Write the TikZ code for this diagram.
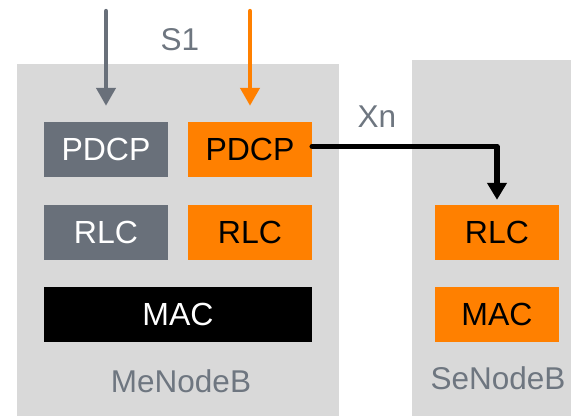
\documentclass[tikz,border=0pt]{standalone}
\usepackage{fontspec}
\setmainfont{Liberation Sans}
\usetikzlibrary{arrows.meta}
\definecolor{bggrey}{HTML}{D9D9D9}
\definecolor{dkgrey}{HTML}{69707A}
\definecolor{txgrey}{HTML}{6E7680}
\definecolor{orng}{HTML}{FF8000}
\begin{document}
\begin{tikzpicture}[x=1pt,y=-1pt,
  layer/.style={minimum width=124pt,minimum height=55pt,inner sep=0pt,font=\fontsize{32}{32}\selectfont},
  greylayer/.style={layer,fill=dkgrey,text=white},
  orangelayer/.style={layer,fill=orng,text=black},
  lbl/.style={text=txgrey,font=\fontsize{31.5}{31.5}\selectfont,inner sep=0pt},
  feed/.style={line width=4.3pt,line cap=round,-{Triangle[width=19pt,length=18pt]}}]
\useasboundingbox (0,0) rectangle (571,416);
\fill[bggrey] (17,64) rectangle (339,416);
\fill[bggrey] (412,60) rectangle (571,416);
\node[greylayer] (gpdcp) at (106,149.5) {PDCP};
\node[orangelayer] (opdcp) at (250,149.5) {PDCP};
\node[greylayer] (grlc) at (106,232.5) {RLC};
\node[orangelayer] (orlc) at (250,232.5) {RLC};
\node[layer,fill=black,text=white,minimum width=268pt] (mmac) at (178,314.5) {MAC};
\node[orangelayer] (srlc) at (497,232.5) {RLC};
\node[orangelayer] (smac) at (497,314.5) {MAC};
\node[lbl] (s1) at (180,40) {S1};
\node[lbl] (xn) at (377,117) {Xn};
\node[lbl] (me) at (181,381) {MeNodeB};
\node[lbl] (se) at (498,378) {SeNodeB};
\coordinate (gtop) at (106,11);
\coordinate (otop) at (250,11);
\draw[feed,dkgrey] (gtop) -- ([yshift=16pt]gpdcp.north);
\draw[feed,orng] (otop) -- ([yshift=16pt]opdcp.north);
\draw[line width=5.5pt,line cap=round,line join=round,-{Triangle[width=19pt,length=17pt]}]
  ([yshift=3pt]opdcp.east) -| ([yshift=5pt]srlc.north);
\end{tikzpicture}
\end{document}
